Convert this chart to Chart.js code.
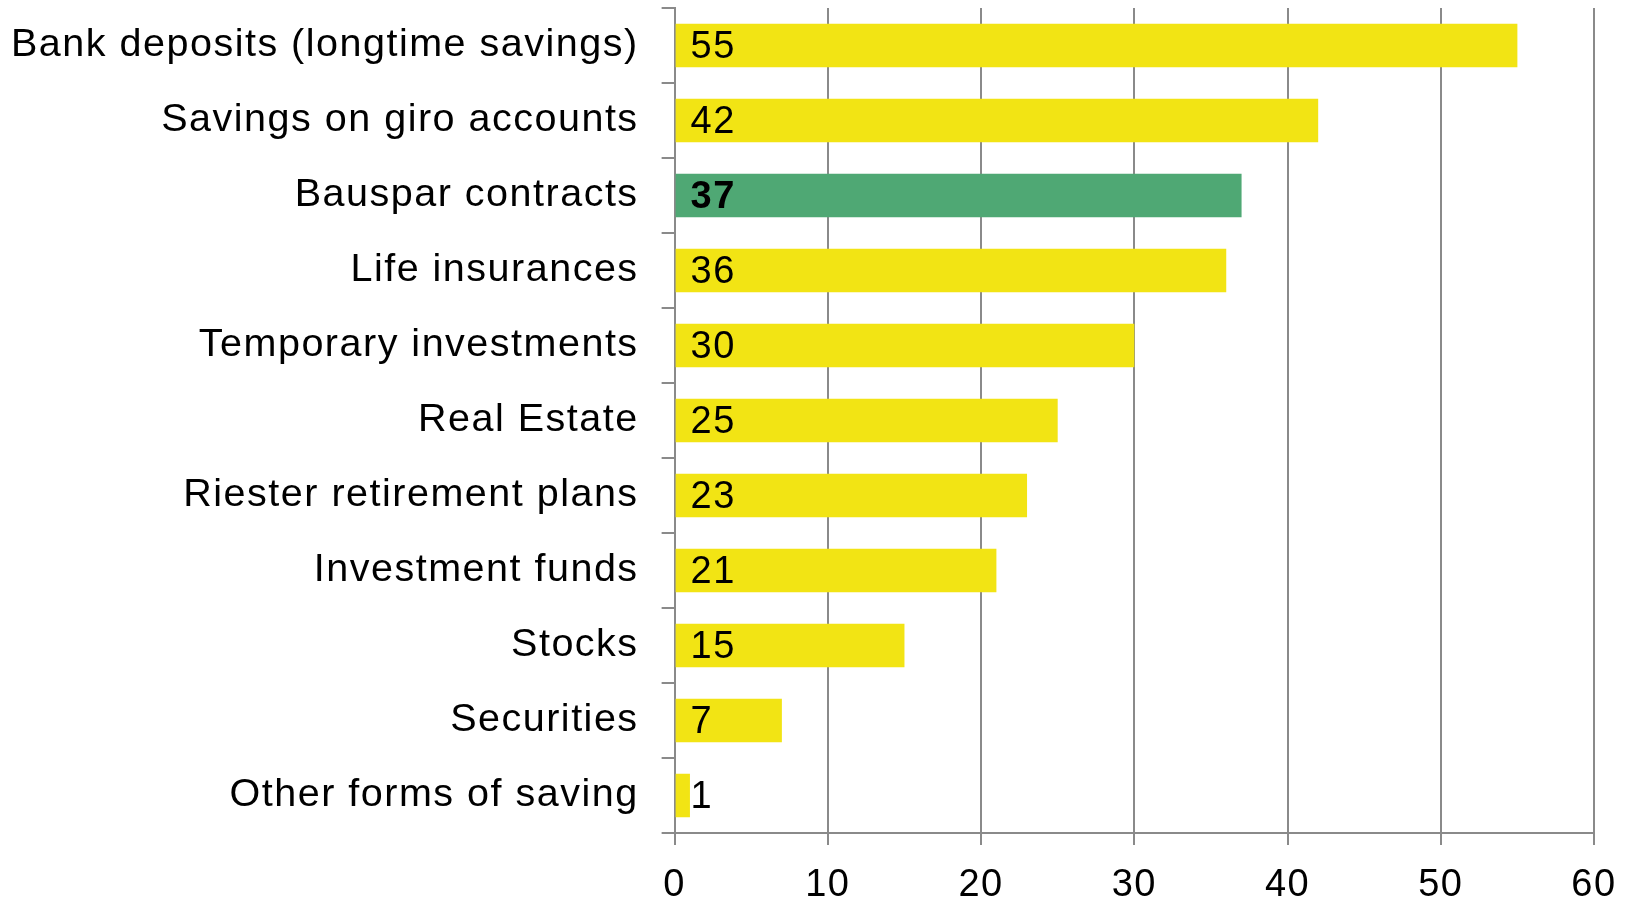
<!DOCTYPE html>
<html>
<head>
<meta charset="utf-8">
<script src="https://cdn.jsdelivr.net/npm/chart.js@4/dist/chart.umd.min.js"></script>
<style>
  html, body { margin: 0; padding: 0; background: #fff; }
  #wrap { width: 1626px; height: 901px; }
</style>
</head>
<body>
<div id="wrap"><canvas id="savingsChart"></canvas></div>
<script>
const categories = [
  "Bank deposits (longtime savings)",
  "Savings on giro accounts",
  "Bauspar contracts",
  "Life insurances",
  "Temporary investments",
  "Real Estate",
  "Riester retirement plans",
  "Investment funds",
  "Stocks",
  "Securities",
  "Other forms of saving",
];
const shares = [55, 42, 37, 36, 30, 25, 23, 21, 15, 7, 1];
const highlighted = "Bauspar contracts";

const YELLOW = "#f2e414";
const GREEN = "#4fa874";
const AXIS_GREY = "#8a8a8a";
const FONT = "'Liberation Sans', Arial, sans-serif";
const SPACING = "1.5px";

// slightly wider text than plain Arial
const textSpacing = {
  id: "textSpacing",
  beforeLayout(chart) {
    chart.ctx.letterSpacing = SPACING;
  },
  beforeDraw(chart) {
    chart.ctx.letterSpacing = SPACING;
  },
};

// value labels sit just inside the base of each bar
const valueLabels = {
  id: "valueLabels",
  afterDatasetsDraw(chart) {
    const { ctx } = chart;
    const meta = chart.getDatasetMeta(0);
    ctx.save();
    ctx.textBaseline = "middle";
    ctx.textAlign = "left";
    ctx.fillStyle = "#000";
    meta.data.forEach((bar, i) => {
      const bold = categories[i] === highlighted;
      ctx.font = (bold ? "bold " : "") + "38px " + FONT;
      ctx.fillText(String(shares[i]), bar.base + 15, bar.y + 2);
    });
    ctx.restore();
  },
};

const chart = new Chart(document.getElementById("savingsChart"), {
  type: "bar",
  data: {
    labels: categories,
    datasets: [
      {
        data: shares,
        backgroundColor: categories.map((c) => (c === highlighted ? GREEN : YELLOW)),
        barPercentage: 0.58,
        categoryPercentage: 1,
      },
    ],
  },
  options: {
    indexAxis: "y",
    responsive: true,
    maintainAspectRatio: false,
    animation: false,
    layout: { padding: { top: 8, right: 32, bottom: 0, left: 0 } },
    plugins: {
      legend: { display: false },
      tooltip: { enabled: false },
    },
    scales: {
      x: {
        min: 0,
        max: 60,
        ticks: {
          stepSize: 10,
          color: "#000",
          font: { family: FONT, size: 38, lineHeight: 1 },
          padding: 22,
        },
        grid: {
          color: AXIS_GREY,
          lineWidth: 2,
          tickLength: 12,
        },
        border: { color: AXIS_GREY, width: 2 },
        afterFit(scale) {
          scale.height = 68;
          scale.paddingLeft = 0;
          scale.paddingRight = 0;
        },
      },
      y: {
        ticks: {
          color: "#000",
          font: { family: FONT, size: 39.5 },
          padding: 23,
        },
        grid: {
          color: AXIS_GREY,
          lineWidth: 2,
          drawOnChartArea: false,
          tickLength: 13,
          offset: true,
        },
        border: { color: AXIS_GREY, width: 2 },
        afterFit(scale) {
          // the longest label runs almost to the left edge
          scale.width -= 12;
          scale.paddingTop = 0;
          scale.paddingBottom = 0;
        },
      },
    },
  },
  plugins: [textSpacing, valueLabels],
});
</script>
</body>
</html>
